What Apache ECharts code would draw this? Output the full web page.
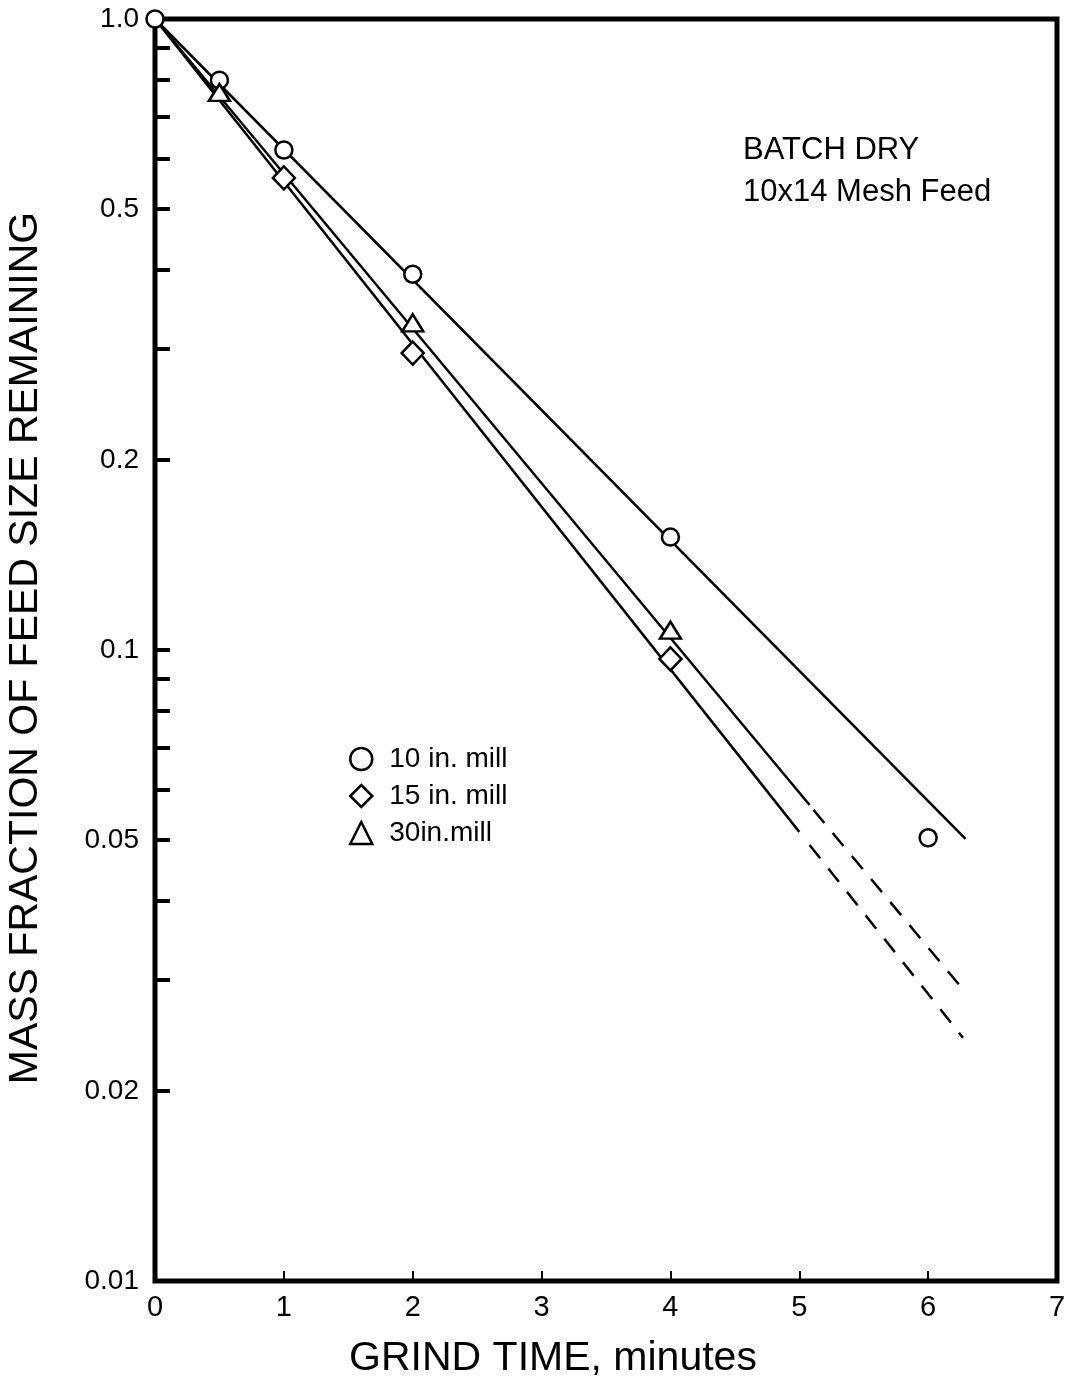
<!DOCTYPE html>
<html><head><meta charset="utf-8">
<script src="https://cdn.jsdelivr.net/npm/echarts@6/dist/echarts.min.js"></script>
<style>html,body{margin:0;padding:0;background:#fff}#c{width:1071px;height:1383px}</style>
</head><body><div id="c"></div>
<script>
const FONT = '"Liberation Sans", Arial, sans-serif';

// axis ticks / labels
const xTicks = [0, 1, 2, 3, 4, 5, 6, 7];
const yLabelValues = [1.0, 0.5, 0.2, 0.1, 0.05, 0.02, 0.01];
const yLabelText = ['1.0', '0.5', '0.2', '0.1', '0.05', '0.02', '0.01'];
const yTickValues = [1.0, 0.9, 0.8, 0.7, 0.6, 0.5, 0.4, 0.3, 0.2, 0.1, 0.09, 0.08, 0.07, 0.06, 0.05, 0.04, 0.03, 0.02, 0.01];

// measured points [grind time (min), mass fraction remaining]
const mill10 = [[0, 1.0], [0.5, 0.80], [1, 0.62], [2, 0.394], [4, 0.151], [6, 0.0504]];
const mill15 = [[1, 0.56], [2, 0.2955], [4, 0.0968]];
const mill30 = [[0.5, 0.765], [2, 0.330], [4, 0.1075]];

// fitted straight lines
const fit10 = [[0, 1.0], [6.29, 0.0502]];
const fit15Solid = [[0, 1.0], [5.0, 0.0515]];
const fit15Dashed = [[5.08, 0.0491], [6.27, 0.0243]];
const fit30Solid = [[0, 1.0], [5.08, 0.0568]];
const fit30Dashed = [[5.11, 0.0558], [6.30, 0.0285]];

const names = ['10 in. mill', '15 in. mill', '30in.mill'];

const chart = echarts.init(document.getElementById('c'), null, {renderer: 'canvas'});

function yFmt(v) {
  let best = 0;
  for (let i = 1; i < yLabelValues.length; i++) {
    if (Math.abs(Math.log10(yLabelValues[i]) - v) < Math.abs(Math.log10(yLabelValues[best]) - v)) best = i;
  }
  return yLabelText[best];
}

const lineBase = {type: 'line', xAxisIndex: 0, yAxisIndex: 0, showSymbol: false, symbol: 'none', silent: true, z: 2};
const scatterBase = {type: 'scatter', xAxisIndex: 0, yAxisIndex: 0, clip: false, z: 5,
  itemStyle: {color: '#fff', borderColor: '#000', borderWidth: 2.5, opacity: 1}};

chart.setOption({
  animation: false,
  backgroundColor: '#fff',
  grid: {left: 155, right: 14, top: 19, bottom: 102, show: true, borderColor: '#000', borderWidth: 5, backgroundColor: 'transparent'},
  xAxis: [{
    type: 'value', min: xTicks[0], max: xTicks[xTicks.length - 1], interval: 1, position: 'bottom',
    axisLine: {show: false, onZero: false},
    axisTick: {show: true, inside: true, length: 10, lineStyle: {color: '#000', width: 2}},
    axisLabel: {color: '#000', fontSize: 29, fontFamily: FONT, margin: 12},
    splitLine: {show: false}
  }],
  yAxis: [{
    type: 'log', logBase: 10, min: 0.01, max: 1, position: 'left',
    axisLine: {show: false, onZero: false}, axisTick: {show: false}, axisLabel: {show: false},
    splitLine: {show: false}, minorTick: {show: false}, minorSplitLine: {show: false}
  }, {
    type: 'value', min: -2, max: 0, position: 'left',
    axisLine: {show: false, onZero: false}, splitLine: {show: false},
    axisTick: {show: true, inside: true, length: 15, lineStyle: {color: '#000', width: 4},
      customValues: yTickValues.map(Math.log10)},
    axisLabel: {color: '#000', fontSize: 28, fontFamily: FONT, margin: 16,
      customValues: yLabelValues.map(Math.log10), formatter: yFmt}
  }],
  legend: {
    left: 344, top: 738, orient: 'vertical', itemWidth: 22, itemHeight: 22, itemGap: 5,
    selectedMode: false, symbolKeepAspect: true,
    textStyle: {color: '#000', fontSize: 28, fontFamily: FONT, lineHeight: 32, padding: [0, 0, 0, 12]},
    itemStyle: {color: '#fff', borderColor: '#000', borderWidth: 2.5, opacity: 1},
    data: [{name: names[0], icon: 'circle'}, {name: names[1], icon: 'diamond'}, {name: names[2], icon: 'triangle'}]
  },
  graphic: [
    {type: 'text', x: 26, y: 648, rotation: Math.PI / 2,
      style: {text: 'MASS FRACTION OF FEED SIZE REMAINING', fontSize: 41, fontFamily: FONT, fill: '#000', align: 'center', verticalAlign: 'middle'}},
    {type: 'text', x: 553, y: 1359,
      style: {text: 'GRIND TIME, minutes', fontSize: 41, fontFamily: FONT, fill: '#000', align: 'center', verticalAlign: 'middle'}},
    {type: 'text', x: 743, y: 150,
      style: {text: 'BATCH DRY', fontSize: 31, fontFamily: FONT, fill: '#000', align: 'left', verticalAlign: 'middle'}},
    {type: 'text', x: 743, y: 192,
      style: {text: '10x14 Mesh Feed', fontSize: 31, fontFamily: FONT, fill: '#000', align: 'left', verticalAlign: 'middle'}}
  ],
  series: [
    Object.assign({}, lineBase, {name: 'fit10', data: fit10, lineStyle: {color: '#000', width: 2.5, type: 'solid'}}),
    Object.assign({}, lineBase, {name: 'fit15', data: fit15Solid, lineStyle: {color: '#000', width: 2.5, type: 'solid'}}),
    Object.assign({}, lineBase, {name: 'fit15d', data: fit15Dashed, lineStyle: {color: '#000', width: 2.5, type: [17, 13]}}),
    Object.assign({}, lineBase, {name: 'fit30', data: fit30Solid, lineStyle: {color: '#000', width: 2.5, type: 'solid'}}),
    Object.assign({}, lineBase, {name: 'fit30d', data: fit30Dashed, lineStyle: {color: '#000', width: 2.5, type: [17, 13]}}),
    Object.assign({}, scatterBase, {name: names[0], data: mill10, symbol: 'circle', symbolSize: 17}),
    Object.assign({}, scatterBase, {name: names[1], data: mill15, symbol: 'diamond', symbolSize: [22, 23]}),
    Object.assign({}, scatterBase, {name: names[2], data: mill30, symbol: 'triangle', symbolSize: [21, 17]})
  ]
});
</script>
</body></html>
